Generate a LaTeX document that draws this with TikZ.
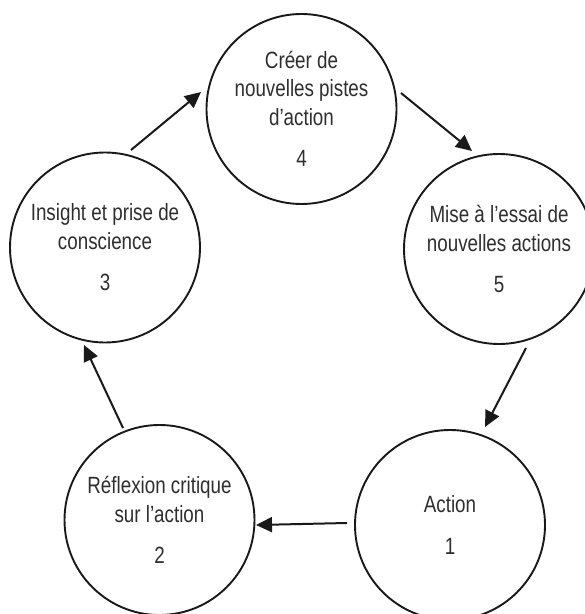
\documentclass[tikz,border=0pt]{standalone}
\usepackage{fontspec}
\setmainfont{Liberation Sans}[FakeStretch=0.8]
\usetikzlibrary{arrows.meta,calc}
\begin{document}
\begin{tikzpicture}[x=1bp,y=-1bp,
  stage/.style={circle,draw=black!90,line width=1.9bp,minimum size=190bp,inner sep=0pt,
    align=center,text=black!82,font=\fontsize{23.5bp}{28.5bp}\selectfont},
  flow/.style={draw=black!90,line width=2bp,-{Triangle[length=16bp,width=15bp]}}]
\useasboundingbox (0,0) rectangle (585,614);
\node[stage] (c4) at (301.5,109) {Créer de\\nouvelles pistes\\d’action\\[13bp]4};
\node[stage] (c5) at (499,249) {Mise à l’essai de\\nouvelles actions\\[13bp]5};
\node[stage] (c1) at (450,525) {Action\\[13bp]1};
\node[stage] (c2) at (159.5,520) {Réflexion critique\\sur l’action\\[13bp]2};
\node[stage] (c3) at (105,247.5) {Insight et prise de\\conscience\\[13bp]3};
\draw[flow] ($(c4)+(99.5,-16)$) -- ($(c5)+(-27,-98)$);
\draw[flow] ($(c5)+(27,99)$) -- ($(c1)+(35,-98)$);
\draw[flow] ($(c1)+(-103,-2)$) -- ($(c2)+(96.5,5)$);
\draw[flow] ($(c2)+(-36.5,-92)$) -- ($(c3)+(-21,97.5)$);
\draw[flow] ($(c3)+(26,-97.5)$) -- ($(c4)+(-100.5,-17)$);
\end{tikzpicture}
\end{document}
